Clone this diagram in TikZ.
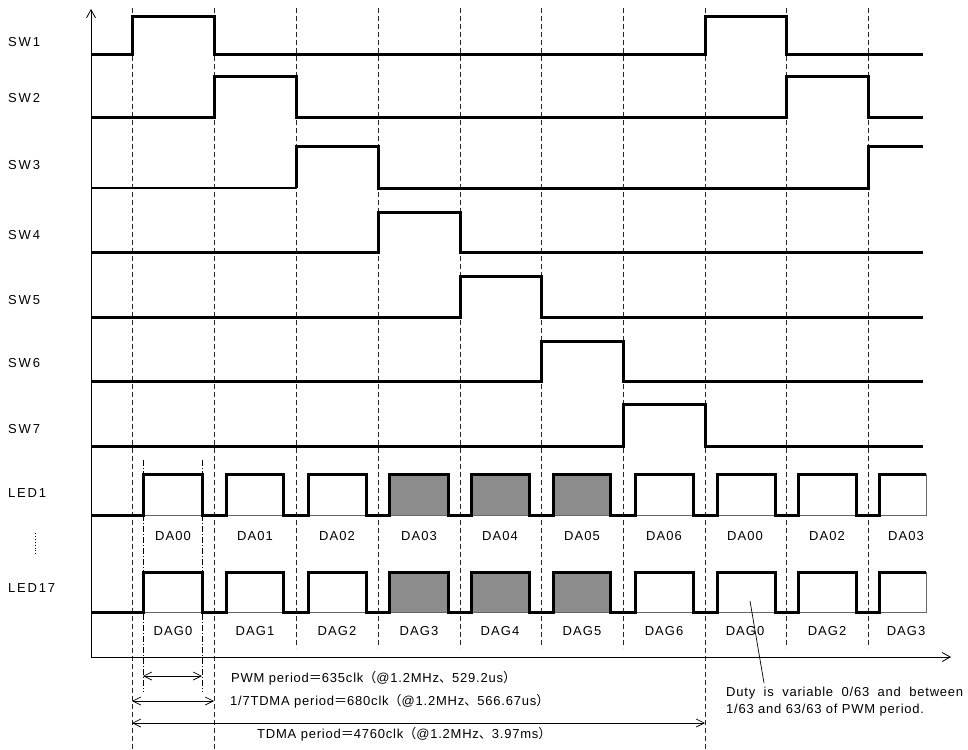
\documentclass[tikz,border=0pt]{standalone}
\usepackage{fontspec}
\setmainfont{Liberation Sans}[LetterSpace=6]
\newfontfamily\cjk{Noto Sans CJK JP}
\usetikzlibrary{arrows.meta}
\begin{document}
\begin{tikzpicture}[x=1pt,y=-1pt,
  wave/.style={line width=3pt, line join=miter, line cap=butt},
  thinwave/.style={line width=1.6pt, line cap=butt},
  gridline/.style={line width=0.8pt, dash pattern=on 5pt off 3pt, black!85},
  dashdot/.style={line width=0.7pt, dash pattern=on 6pt off 2pt on 1pt off 2pt},
  lbl/.style={font=\fontsize{13}{15}\selectfont\addfontfeature{LetterSpace=14}, anchor=west, inner sep=0pt},
  slotlbl/.style={font=\fontsize{13}{15}\selectfont\addfontfeature{LetterSpace=8}, inner sep=0pt},
  note/.style={font=\fontsize{13}{15}\selectfont, anchor=west, inner sep=0pt},
  dim/.style={line width=0.7pt, {Straight Barb[length=8pt,width=8pt]}-{Straight Barb[length=8pt,width=8pt]}},
  pulsebox/.style={draw=black!60, line width=0.6pt}]
\useasboundingbox (0,0) rectangle (968,749);

% grid lines
\foreach \x in {132,214,705} \draw[gridline] (\x,8) -- (\x,749);
\foreach \x in {296,378,460,541,623,786,868} \draw[gridline] (\x,8) -- (\x,648);
\foreach \x in {143,202} \draw[dashdot] (\x,460) -- (\x,692);

% axes
\coordinate (o) at (91,657);
\coordinate (ytop) at (91,9);
\coordinate (xend) at (951,657);
\draw[line width=0.8pt, -{Straight Barb[length=8pt,width=9pt]}] (o) -- (ytop);
\draw[line width=0.8pt, -{Straight Barb[length=8pt,width=9pt]}] (o) -- (xend);

% row labels
\node[lbl] (l1) at (8,42) {SW1};
\node[lbl] (l2) at (8,98) {SW2};
\node[lbl] (l3) at (8,165) {SW3};
\node[lbl] (l4) at (8,235) {SW4};
\node[lbl] (l5) at (8,300) {SW5};
\node[lbl] (l6) at (8,363) {SW6};
\node[lbl] (l7) at (8,429) {SW7};
\node[lbl] (l8) at (8,493) {LED1};
\node[lbl] (l9) at (8,588) {LED17};
\draw[line width=0.9pt, dash pattern=on 0.9pt off 2pt] (35,533) -- (35,554);

% SW waveforms
\draw[wave] (91,55) -- (132,55) -- (132,17) -- (214,17) -- (214,55) -- (705,55) -- (705,17) -- (786,17) -- (786,55) -- (923,55);
\draw[wave] (91,118) -- (214,118) -- (214,77) -- (296,77) -- (296,118) -- (786,118) -- (786,77) -- (868,77) -- (868,118) -- (923,118);
\draw[thinwave] (91,188) -- (296,188);
\draw[wave] (296,188) -- (296,146) -- (378,146) -- (378,188) -- (868,188) -- (868,146) -- (923,146);
\draw[wave] (91,252) -- (378,252) -- (378,212) -- (460,212) -- (460,252) -- (923,252);
\draw[wave] (91,317) -- (460,317) -- (460,276) -- (541,276) -- (541,317) -- (923,317);
\draw[wave] (91,381) -- (541,381) -- (541,341) -- (623,341) -- (623,381) -- (923,381);
\draw[wave] (91,446) -- (623,446) -- (623,404) -- (705,404) -- (705,446) -- (923,446);

% LED pulses
\foreach \hi/\lo in {474/515, 572/612} {
  \foreach \r/\f/\c in {143/202/white, 226/283/white, 308/366/white, 389/448/black!45, 471/529/black!45, 553/610/black!45, 635/693/white, 717/775/white, 798/856/white, 879/926/white}
    \filldraw[pulsebox, fill=\c] (\r,\hi) rectangle (\f,\lo);
  \draw[wave] (91,\lo) -- (143,\lo) -- (143,\hi) -- (202,\hi) -- (202,\lo)
    -- (226,\lo) -- (226,\hi) -- (283,\hi) -- (283,\lo)
    -- (308,\lo) -- (308,\hi) -- (366,\hi) -- (366,\lo)
    -- (389,\lo) -- (389,\hi) -- (448,\hi) -- (448,\lo)
    -- (471,\lo) -- (471,\hi) -- (529,\hi) -- (529,\lo)
    -- (553,\lo) -- (553,\hi) -- (610,\hi) -- (610,\lo)
    -- (635,\lo) -- (635,\hi) -- (693,\hi) -- (693,\lo)
    -- (717,\lo) -- (717,\hi) -- (775,\hi) -- (775,\lo)
    -- (798,\lo) -- (798,\hi) -- (856,\hi) -- (856,\lo)
    -- (879,\lo) -- (879,\hi) -- (926,\hi);
}

% slot labels
\foreach \x/\a/\b [count=\i] in {173/DA00/DAG0, 255/DA01/DAG1, 337/DA02/DAG2, 419/DA03/DAG3, 500/DA04/DAG4, 582/DA05/DAG5, 664/DA06/DAG6, 745/DA00/DAG0, 827/DA02/DAG2, 906/DA03/DAG3} {
  \node[slotlbl] (da\i) at (\x,536) {\a};
  \node[slotlbl] (dag\i) at (\x,631) {\b};
}

% dimension arrows
\coordinate (p1) at (143,676); \coordinate (p2) at (202,676);
\coordinate (q1) at (132,701); \coordinate (q2) at (214,701);
\coordinate (t1) at (132,723); \coordinate (t2) at (705,723);
\draw[dim] (p1) -- (p2);
\draw[dim] (q1) -- (q2);
\draw[dim] (t1) -- (t2);
\node[note] (pwm) at (231,678) {PWM period{\cjk ＝}635clk{\cjk （}@1.2MHz{\cjk 、}529.2us{\cjk ）}};
\node[note] (tdma7) at (230,701) {1/7TDMA period{\cjk ＝}680clk{\cjk （}@1.2MHz{\cjk 、}566.67us{\cjk ）}};
\node[note] (tdma) at (257,734) {TDMA period{\cjk ＝}4760clk{\cjk （}@1.2MHz{\cjk 、}3.97ms{\cjk ）}};

% duty note
\coordinate (d1) at (750,601);
\coordinate (d2) at (764,683);
\draw[line width=0.7pt] (d1) -- (d2);
\node[note] (duty1) at (726,693) {\hbox to 237pt{Duty\hfill is\hfill variable\hfill 0/63\hfill and\hfill between}};
\node[note] (duty2) at (726,710) {1/63 and 63/63 of PWM period.};
\end{tikzpicture}
\end{document}
